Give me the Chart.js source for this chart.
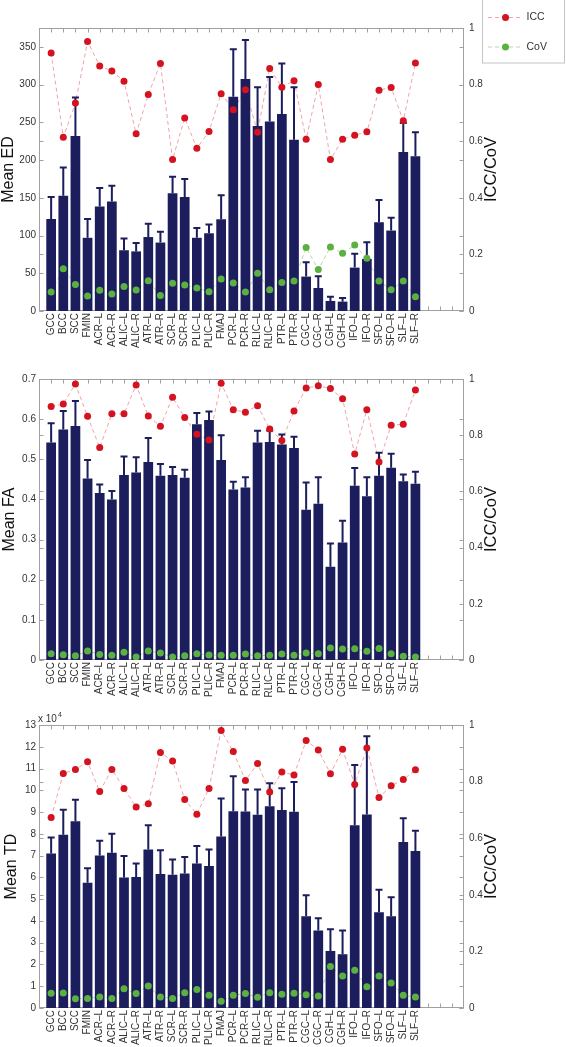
<!DOCTYPE html>
<html><head><meta charset="utf-8">
<script src="https://cdn.jsdelivr.net/npm/chart.js@4/dist/chart.umd.min.js"></script>
<style>
html,body{margin:0;padding:0;background:#fff;}
#wrap{position:relative;width:566px;height:1047px;overflow:hidden;background:#fff;}
canvas{position:absolute;left:0;}
</style></head><body>
<div id="wrap">
<canvas id="c1" width="566" height="360" style="top:0px"></canvas>
<canvas id="c2" width="566" height="360" style="top:350px"></canvas>
<canvas id="c3" width="566" height="352" style="top:695px"></canvas>
</div>
<script>
const categories = ['GCC','BCC','SCC','FMIN','ACR\u2013L','ACR\u2013R','ALIC\u2013L','ALIC\u2013R','ATR\u2013L','ATR\u2013R','SCR\u2013L','SCR\u2013R','PLIC\u2013L','PLIC\u2013R','FMAJ','PCR\u2013L','PCR\u2013R','RLIC\u2013L','RLIC\u2013R','PTR\u2013L','PTR\u2013R','CGC\u2013L','CGC\u2013R','CGH\u2013L','CGH\u2013R','IFO\u2013L','IFO\u2013R','SFO\u2013L','SFO\u2013R','SLF\u2013L','SLF\u2013R'];

// Mean ED
const edMean = [122,152.6,232,97,138.5,145,80.5,79,98,90.7,156,151,97,103,121.7,284,307.5,245,251,261,227,45.6,30.5,13.3,12.4,57.5,69,117.7,106.6,210.6,205];
const edSD   = [29,37.4,51,25,24.5,21,15.5,11,17.5,14.3,22,24,13,11.6,31.8,63,51.5,51.5,59,67,69.5,19,15.5,5.7,4.9,18.2,22,29.3,16.9,38.4,31.7];
const edICC  = [0.912,0.614,0.735,0.952,0.866,0.848,0.812,0.626,0.765,0.875,0.535,0.682,0.575,0.634,0.768,0.711,0.782,0.632,0.857,0.791,0.814,0.607,0.80,0.535,0.607,0.621,0.633,0.78,0.79,0.672,0.876];
const edCoV  = [0.067,0.149,0.094,0.053,0.073,0.060,0.087,0.074,0.107,0.055,0.098,0.092,0.081,0.068,0.113,0.099,0.067,0.133,0.075,0.101,0.106,0.224,0.147,0.226,0.204,0.233,0.186,0.106,0.075,0.106,0.050];

// Mean FA
const faMean = [0.542,0.574,0.583,0.452,0.416,0.400,0.461,0.467,0.493,0.459,0.461,0.454,0.587,0.598,0.498,0.425,0.430,0.542,0.543,0.537,0.528,0.374,0.389,0.232,0.293,0.434,0.408,0.459,0.479,0.445,0.439];
const faSD   = [0.048,0.046,0.062,0.046,0.021,0.021,0.046,0.038,0.060,0.029,0.020,0.020,0.028,0.021,0.062,0.019,0.025,0.029,0.029,0.025,0.028,0.068,0.066,0.058,0.054,0.044,0.047,0.057,0.035,0.017,0.030];
const faICC  = [0.902,0.911,0.982,0.867,0.756,0.876,0.876,0.979,0.868,0.832,0.935,0.863,0.803,0.783,0.985,0.891,0.882,0.905,0.822,0.781,0.886,0.968,0.976,0.966,0.930,0.733,0.891,0.705,0.835,0.839,0.961];
const faCoV  = [0.022,0.019,0.015,0.032,0.020,0.017,0.028,0.011,0.032,0.025,0.011,0.015,0.022,0.018,0.017,0.017,0.021,0.015,0.017,0.021,0.017,0.025,0.022,0.043,0.039,0.040,0.031,0.041,0.022,0.013,0.011];

// Mean TD
const tdMean = [7.10e4,7.96e4,8.58e4,5.75e4,7.01e4,7.13e4,5.99e4,6.02e4,7.28e4,6.16e4,6.12e4,6.18e4,6.64e4,6.52e4,7.88e4,9.04e4,9.03e4,8.88e4,9.27e4,9.10e4,9.01e4,4.22e4,3.56e4,2.62e4,2.47e4,8.40e4,8.89e4,4.40e4,4.22e4,7.62e4,7.21e4];
const tdSD   = [0.73e4,1.15e4,0.99e4,0.67e4,0.67e4,0.87e4,0.99e4,0.62e4,1.11e4,1.09e4,0.70e4,0.76e4,0.80e4,0.76e4,1.74e4,1.61e4,1.01e4,1.16e4,1.05e4,1.00e4,1.37e4,0.96e4,0.56e4,1.00e4,1.09e4,2.76e4,3.59e4,1.03e4,0.87e4,1.10e4,0.93e4];
const tdICC  = [0.673,0.829,0.843,0.870,0.765,0.843,0.776,0.710,0.722,0.903,0.873,0.737,0.685,0.776,0.981,0.906,0.804,0.864,0.763,0.834,0.823,0.945,0.912,0.828,0.914,0.790,0.919,0.744,0.785,0.807,0.842];
const tdCoV  = [0.052,0.053,0.033,0.034,0.039,0.034,0.068,0.051,0.078,0.039,0.034,0.054,0.065,0.045,0.024,0.045,0.051,0.038,0.054,0.049,0.052,0.047,0.042,0.147,0.113,0.133,0.075,0.113,0.088,0.045,0.039];

// Tick values
const edTicks  = [0,50,100,150,200,250,300,350];
const faTicks  = [0,0.1,0.2,0.3,0.4,0.5,0.6,0.7];
const tdTicks  = [0,1e4,2e4,3e4,4e4,5e4,6e4,7e4,8e4,9e4,10e4,11e4,12e4,13e4];
const iccTicks = [0,0.2,0.4,0.6,0.8,1];

const NAVY = '#1b1d5c', RED = '#d3131f', GREEN = '#5bb041';
const RED_LINE = '#f2a2a8', GREEN_LINE = '#b2dba3';
const FONT = '"Liberation Sans", Arial, Helvetica, sans-serif';

const pts = arr => arr.map((v, i) => ({x: i + 1, y: v}));

const decor = {
  id: 'decor',
  beforeDatasetsDraw(chart) {
    const {ctx, chartArea: a, scales} = chart;
    ctx.save();
    ctx.strokeStyle = '#a0a0a0';
    ctx.lineWidth = 1;
    const L = Math.round(a.left) + 0.5, R = Math.round(a.right) - 0.5;
    const T = Math.round(a.top) + 0.5, B = Math.round(a.bottom) - 0.5;
    ctx.strokeRect(L, T, R - L, B - T);
    const tl = 4;
    ctx.beginPath();
    for (let i = 1; i < 35; i++) {
      const x = Math.round(scales.x.getPixelForValue(i)) + 0.5;
      ctx.moveTo(x, B); ctx.lineTo(x, B - tl);
      ctx.moveTo(x, T); ctx.lineTo(x, T + tl);
    }
    [scales.y, scales.y1].forEach(s => {
      s.ticks.forEach(t => {
        const y = Math.round(s.getPixelForValue(t.value)) + 0.5;
        ctx.moveTo(L, y); ctx.lineTo(L + tl, y);
        ctx.moveTo(R, y); ctx.lineTo(R - tl, y);
      });
    });
    ctx.stroke();
    ctx.restore();
  },
  afterDatasetDraw(chart, args) {
    const ds = chart.data.datasets[args.index];
    if (!ds.errors) return;
    const {ctx, scales} = chart;
    ctx.save();
    ctx.strokeStyle = NAVY;
    ctx.lineWidth = 2;
    args.meta.data.forEach((bar, i) => {
      const x = bar.x;
      const yTop = scales.y.getPixelForValue(ds.data[i].y + ds.errors[i]);
      ctx.beginPath();
      ctx.moveTo(x, bar.y); ctx.lineTo(x, yTop);
      ctx.moveTo(x - 3.5, yTop); ctx.lineTo(x + 3.5, yTop);
      ctx.stroke();
    });
    ctx.restore();
  },
  afterDraw(chart, args, opts) {
    const {ctx, chartArea: a} = chart;
    ctx.save();
    ctx.fillStyle = '#111';
    ctx.font = '16px ' + FONT;
    ctx.textAlign = 'center';
    ctx.textBaseline = 'middle';
    const cy = (a.top + a.bottom) / 2;
    ctx.save(); ctx.translate(opts.leftTitleX, cy); ctx.rotate(-Math.PI / 2); ctx.fillText(opts.leftTitle, 0, 0); ctx.restore();
    ctx.font = '16.5px ' + FONT;
    ctx.save(); ctx.translate(491, cy); ctx.rotate(-Math.PI / 2); ctx.fillText('ICC/CoV', 0, 0); ctx.restore();
    if (opts.exponent) {
      ctx.fillStyle = '#333';
      ctx.textAlign = 'left';
      ctx.textBaseline = 'alphabetic';
      ctx.font = '10px ' + FONT;
      ctx.fillText('x 10', a.left - 1, a.top - 3);
      const w = ctx.measureText('x 10').width;
      ctx.font = '7px ' + FONT;
      ctx.fillText('4', a.left - 1 + w + 1, a.top - 8);
    }
    if (opts.legend) {
      ctx.strokeStyle = '#c4c4c4';
      ctx.lineWidth = 1;
      ctx.strokeRect(482.5, -2.5, 82, 65.5);
      const rows = [{label: 'ICC', line: RED_LINE, dot: RED, y: 17.5}, {label: 'CoV', line: GREEN_LINE, dot: GREEN, y: 47}];
      rows.forEach(r => {
        ctx.save();
        ctx.strokeStyle = r.line; ctx.setLineDash([4, 3]); ctx.lineWidth = 1;
        ctx.beginPath(); ctx.moveTo(488, r.y); ctx.lineTo(523, r.y); ctx.stroke();
        ctx.restore();
        ctx.fillStyle = r.dot;
        ctx.beginPath(); ctx.arc(505.5, r.y, 3.5, 0, Math.PI * 2); ctx.fill();
        ctx.fillStyle = '#333';
        ctx.font = '10.5px ' + FONT;
        ctx.textAlign = 'left'; ctx.textBaseline = 'middle';
        ctx.fillText(r.label, 526.5, r.y);
      });
    }
    ctx.restore();
  }
};

function makeChart(id, cfg) {
  const datasets = [
    {type: 'line', data: pts(cfg.icc), yAxisID: 'y1', borderColor: RED_LINE, borderWidth: 1, borderDash: [4, 3], pointRadius: 0, fill: false, order: 3},
    {type: 'line', data: pts(cfg.cov), yAxisID: 'y1', borderColor: GREEN_LINE, borderWidth: 1, borderDash: [4, 3], pointRadius: 0, fill: false, order: 3},
    {type: 'bar', data: pts(cfg.mean), errors: cfg.sd, yAxisID: 'y', backgroundColor: NAVY, borderWidth: 0, categoryPercentage: 1, barPercentage: 0.8, order: 2},
    {type: 'line', data: pts(cfg.cov), yAxisID: 'y1', showLine: false, pointRadius: 3.5, pointBackgroundColor: GREEN, pointBorderWidth: 0, borderColor: GREEN, order: 1},
    {type: 'line', data: pts(cfg.icc), yAxisID: 'y1', showLine: false, pointRadius: 3.5, pointBackgroundColor: RED, pointBorderWidth: 0, borderColor: RED, order: 0}
  ];
  return new Chart(document.getElementById(id), {
    type: 'bar',
    data: {datasets},
    plugins: [decor],
    options: {
      responsive: false,
      animation: false,
      devicePixelRatio: 1,
      layout: {padding: {top: cfg.padTop, left: 0, right: 0, bottom: 0}},
      plugins: {
        legend: {display: false},
        tooltip: {enabled: false},
        decor: {leftTitle: cfg.title, leftTitleX: cfg.titleX, legend: cfg.legend, exponent: cfg.exponent}
      },
      scales: {
        x: {
          type: 'linear', min: 0, max: 35, offset: false,
          grid: {display: false, drawTicks: false}, border: {display: false},
          afterBuildTicks: s => { s.ticks = categories.map((c, i) => ({value: i + 1})); },
          afterFit: s => { s.height = cfg.xHeight; },
          ticks: {autoSkip: false, minRotation: 90, maxRotation: 90, padding: 2, color: '#333',
                  font: {size: 10, family: FONT}, callback: v => categories[v - 1] || ''}
        },
        y: {
          type: 'linear', position: 'left', min: 0, max: cfg.yMax,
          grid: {display: false, drawTicks: false}, border: {display: false},
          afterBuildTicks: s => { s.ticks = cfg.yTicks.map(v => ({value: v})); },
          afterFit: s => { s.width = 39; },
          ticks: {padding: 3, color: '#333', font: {size: 10, family: FONT}, callback: cfg.yFmt}
        },
        y1: {
          type: 'linear', position: 'right', min: 0, max: 1,
          grid: {display: false, drawTicks: false}, border: {display: false},
          afterBuildTicks: s => { s.ticks = iccTicks.map(v => ({value: v})); },
          afterFit: s => { s.width = 102; },
          ticks: {padding: 5, color: '#333', font: {size: 10, family: FONT},
                  callback: v => (v === 0 || v === 1) ? String(v) : v.toFixed(1)}
        }
      }
    }
  });
}

makeChart('c1', {mean: edMean, sd: edSD, icc: edICC, cov: edCoV, yMax: 375, yTicks: edTicks,
  yFmt: v => String(v), title: 'Mean ED', titleX: 9, padTop: 28, xHeight: 49, legend: true});
makeChart('c2', {mean: faMean, sd: faSD, icc: faICC, cov: faCoV, yMax: 0.7, yTicks: faTicks,
  yFmt: v => v === 0 ? '0' : v.toFixed(1), title: 'Mean FA', titleX: 10, padTop: 29, xHeight: 50});
makeChart('c3', {mean: tdMean, sd: tdSD, icc: tdICC, cov: tdCoV, yMax: 13e4, yTicks: tdTicks,
  yFmt: v => String(Math.round(v / 1e4)), title: 'Mean TD', titleX: 12, padTop: 30, xHeight: 39, exponent: true});
</script>
</body></html>
